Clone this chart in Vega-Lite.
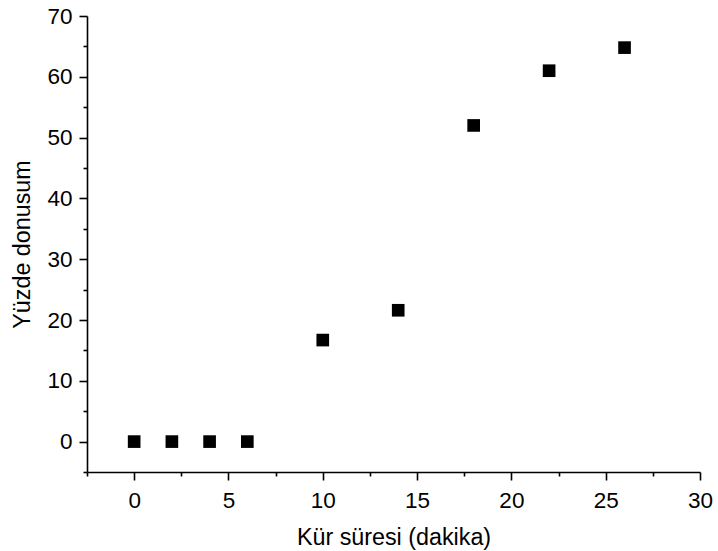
{
  "$schema": "https://vega.github.io/schema/vega-lite/v6.json",
  "width": 613,
  "height": 456,
  "autosize": {"type": "none"},
  "padding": {"left": 87, "top": 16, "right": 18, "bottom": 79},
  "background": "white",
  "config": {
    "view": {"stroke": null},
    "font": "Liberation Sans",
    "axis": {
      "grid": false,
      "domainColor": "black",
      "tickColor": "black",
      "labelColor": "black",
      "titleColor": "black",
      "domainWidth": 1.6,
      "tickWidth": 1.6,
      "labelFont": "Liberation Sans",
      "titleFont": "Liberation Sans",
      "labelFontSize": 22.5,
      "titleFontSize": 23.3,
      "titleFontWeight": "normal"
    }
  },
  "data": {
    "values": [
      {"t": 0, "p": 0},
      {"t": 2, "p": 0},
      {"t": 4, "p": 0},
      {"t": 6, "p": 0},
      {"t": 10, "p": 16.7},
      {"t": 14, "p": 21.6},
      {"t": 18, "p": 52},
      {"t": 22, "p": 61},
      {"t": 26, "p": 64.8}
    ]
  },
  "layer": [
    {
      "mark": {"type": "point", "shape": "square", "filled": true, "color": "black", "size": 160, "opacity": 1, "strokeWidth": 0},
      "encoding": {
        "x": {
          "field": "t", "type": "quantitative",
          "scale": {"domain": [-2.5, 30], "nice": false, "zero": false},
          "axis": {"orient": "bottom", "values": [0, 5, 10, 15, 20, 25, 30], "tickSize": 8, "labelPadding": 9, "title": "Kür süresi (dakika)", "titlePadding": 15, "labelFlush": false}
        },
        "y": {
          "field": "p", "type": "quantitative",
          "scale": {"domain": [-5, 70], "nice": false, "zero": false},
          "axis": {"orient": "left", "values": [0, 10, 20, 30, 40, 50, 60, 70], "tickSize": 8, "labelPadding": 7, "title": "Yüzde donusum", "titlePadding": 12, "labelFlush": false}
        }
      }
    },
    {
      "mark": {"type": "point", "opacity": 0},
      "encoding": {
        "x": {
          "field": "t", "type": "quantitative",
          "scale": {"domain": [-2.5, 30], "nice": false, "zero": false},
          "axis": {"orient": "bottom", "values": [-2.5, 2.5, 7.5, 12.5, 17.5, 22.5, 27.5], "tickSize": 4, "labels": false, "domain": false, "title": null}
        },
        "y": {
          "field": "p", "type": "quantitative",
          "scale": {"domain": [-5, 70], "nice": false, "zero": false},
          "axis": {"orient": "left", "values": [-5, 5, 15, 25, 35, 45, 55, 65], "tickSize": 4, "labels": false, "domain": false, "title": null}
        }
      }
    }
  ],
  "resolve": {"axis": {"x": "independent", "y": "independent"}}
}
